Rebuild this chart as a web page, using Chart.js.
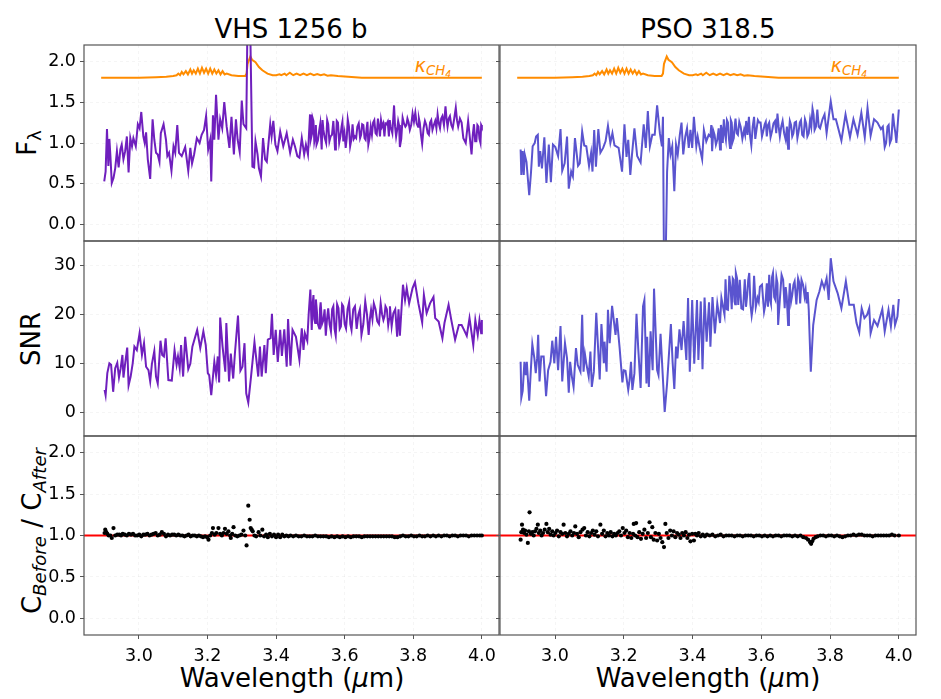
<!DOCTYPE html>
<html>
<head>
<meta charset="utf-8">
<title>VHS 1256 b / PSO 318.5</title>
<script src="https://cdn.jsdelivr.net/npm/chart.js@4/dist/chart.umd.min.js"></script>
<style>
html, body { margin: 0; padding: 0; background: #fff; }
body { width: 941px; height: 699px; position: relative; overflow: hidden; font-family: "DejaVu Sans", sans-serif; color: #000; }
canvas { position: absolute; }
.txt { position: absolute; white-space: nowrap; transform: translate(-50%, -50%); line-height: 1; }
.rot { transform: translate(-50%, -50%) rotate(-90deg); }
.big { font-size: 26px; }
.kappa { font-size: 19px; color: #ff8c00; font-style: italic; }
sub { font-size: 70%; vertical-align: -0.25em; line-height: 0; }
</style>
</head>
<body>
<div class="txt big" style="left:291px;top:29px">VHS 1256 b</div>
<div class="txt big" style="left:708px;top:29px">PSO 318.5</div>
<div class="txt big rot" style="left:27px;top:143px">F<sub>λ</sub></div>
<div class="txt big rot" style="left:31px;top:339px">SNR</div>
<div class="txt big rot" style="left:32px;top:531px">C<sub><i>Before</i></sub> / C<sub><i>After</i></sub></div>
<div class="txt big" style="left:292px;top:678px">Wavelength (<i>μ</i>m)</div>
<div class="txt big" style="left:708px;top:678px">Wavelength (<i>μ</i>m)</div>
<div class="txt kappa" style="left:433px;top:65px">κ<sub>CH<sub>4</sub></sub></div>
<div class="txt kappa" style="left:849px;top:65px">κ<sub>CH<sub>4</sub></sub></div>

<script>
// tick values
const xTicks = [3.0, 3.2, 3.4, 3.6, 3.8, 4.0];
const fluxTicks = [0.0, 0.5, 1.0, 1.5, 2.0];
const snrTicks = [0, 10, 20, 30];
const ratioTicks = [0.0, 0.5, 1.0, 1.5, 2.0];

// methane opacity curve, same in both columns (wavelength, value)
const kappaCH4 = [[2.89,1.80],[3.00,1.80],[3.05,1.805],[3.08,1.81],[3.10,1.82],[3.11,1.83],[3.115,1.85],[3.12,1.83],[3.125,1.87],[3.13,1.84],[3.137,1.88],[3.143,1.84],[3.15,1.90],[3.155,1.85],[3.16,1.89],[3.166,1.85],[3.172,1.91],[3.178,1.85],[3.184,1.92],[3.19,1.86],[3.196,1.91],[3.202,1.85],[3.208,1.91],[3.214,1.85],[3.22,1.90],[3.226,1.85],[3.232,1.89],[3.238,1.84],[3.244,1.88],[3.25,1.84],[3.256,1.85],[3.27,1.83],[3.29,1.82],[3.31,1.82],[3.314,1.85],[3.317,1.97],[3.325,2.06],[3.33,2.02],[3.34,1.99],[3.35,1.93],[3.36,1.89],[3.375,1.85],[3.39,1.83],[3.40,1.83],[3.41,1.84],[3.415,1.83],[3.425,1.85],[3.43,1.83],[3.44,1.86],[3.45,1.83],[3.46,1.85],[3.47,1.83],[3.48,1.85],[3.49,1.83],[3.50,1.85],[3.51,1.83],[3.52,1.845],[3.53,1.83],[3.54,1.84],[3.55,1.825],[3.56,1.83],[3.58,1.82],[3.60,1.815],[3.65,1.80],[4.00,1.80]];

// VHS 1256 b flux
const vhsFlux = [[2.899,0.53],[2.903,0.65],[2.907,1.17],[2.911,0.72],[2.914,1.05],[2.917,0.84],[2.921,0.51],[2.926,0.57],[2.931,0.69],[2.936,0.90],[2.941,0.70],[2.946,0.92],[2.950,0.98],[2.955,0.80],[2.960,0.90],[2.965,1.08],[2.970,0.64],[2.975,1.06],[2.980,0.96],[2.984,1.06],[2.991,0.96],[2.997,1.23],[3.002,1.18],[3.007,1.38],[3.013,1.08],[3.017,1.00],[3.021,1.13],[3.026,0.80],[3.033,0.56],[3.040,1.29],[3.045,1.04],[3.050,0.88],[3.055,0.86],[3.060,0.77],[3.064,1.12],[3.072,1.23],[3.079,1.04],[3.083,0.84],[3.088,0.88],[3.095,0.66],[3.101,0.96],[3.106,0.88],[3.112,1.22],[3.117,0.88],[3.125,0.84],[3.135,0.95],[3.144,0.66],[3.150,0.94],[3.155,0.75],[3.161,0.86],[3.169,1.06],[3.177,1.00],[3.183,1.10],[3.190,1.16],[3.196,1.33],[3.202,0.92],[3.208,1.04],[3.211,0.53],[3.216,1.34],[3.220,1.04],[3.225,1.59],[3.232,1.04],[3.237,1.29],[3.243,1.18],[3.249,1.50],[3.256,1.20],[3.264,0.94],[3.270,1.32],[3.277,0.86],[3.283,1.29],[3.288,1.04],[3.294,0.89],[3.300,1.52],[3.305,1.23],[3.313,1.18],[3.317,2.6],[3.324,2.6],[3.331,0.71],[3.336,0.70],[3.340,1.02],[3.346,0.86],[3.350,0.69],[3.356,0.59],[3.362,1.06],[3.368,0.80],[3.373,0.77],[3.383,1.23],[3.387,1.08],[3.392,1.27],[3.398,0.98],[3.404,0.90],[3.412,1.14],[3.421,0.96],[3.431,1.12],[3.441,0.88],[3.449,1.04],[3.455,0.96],[3.462,0.84],[3.468,0.82],[3.475,1.06],[3.482,0.86],[3.487,0.98],[3.493,0.86],[3.499,1.35],[3.505,1.12],[3.509,1.27],[3.514,1.08],[3.518,0.98],[3.526,1.16],[3.533,0.92],[3.538,1.16],[3.546,1.00],[3.552,1.23],[3.559,1.08],[3.567,1.27],[3.572,0.92],[3.577,1.27],[3.584,1.00],[3.591,1.20],[3.596,1.02],[3.603,0.94],[3.609,1.29],[3.616,0.96],[3.623,1.23],[3.630,1.08],[3.637,1.20],[3.645,1.06],[3.651,1.23],[3.658,1.06],[3.664,1.18],[3.669,0.98],[3.676,1.20],[3.683,1.25],[3.690,1.12],[3.697,1.30],[3.703,1.08],[3.709,1.20],[3.716,1.08],[3.722,1.23],[3.729,1.08],[3.734,1.20],[3.744,1.46],[3.750,1.08],[3.756,1.27],[3.761,0.95],[3.769,1.31],[3.777,1.20],[3.783,1.30],[3.790,1.16],[3.798,1.36],[3.806,1.37],[3.814,1.20],[3.819,1.25],[3.826,0.99],[3.834,1.27],[3.842,1.12],[3.849,1.25],[3.856,1.16],[3.864,1.27],[3.871,1.35],[3.878,1.18],[3.885,1.33],[3.894,1.45],[3.900,1.20],[3.907,1.33],[3.915,1.18],[3.924,1.43],[3.931,1.20],[3.941,1.25],[3.946,1.06],[3.953,1.00],[3.960,1.27],[3.970,0.86],[3.977,1.23],[3.984,1.02],[3.990,1.20],[3.996,1.00],[4.000,1.20]];
// extra samples where the line packs into a solid band
const vhsFluxDense = [[3.5015,1.05],[3.507,1.30],[3.5115,1.02],[3.516,1.22],[3.522,1.03],[3.529,1.24],[3.5355,1.28],[3.542,1.06],[3.549,1.28],[3.5555,1.02],[3.563,1.10],[3.5695,1.10],[3.5745,1.02],[3.5805,1.25],[3.5875,1.08],[3.5935,1.26],[3.5995,1.12],[3.606,1.06],[3.6125,1.20],[3.6195,1.04],[3.6265,1.05],[3.6335,1.06],[3.641,1.24],[3.648,1.10],[3.6545,1.22],[3.661,1.04],[3.6665,1.26],[3.6725,1.06],[3.6795,1.10],[3.6865,1.28],[3.6935,1.10],[3.700,1.20],[3.706,1.28],[3.7125,1.24],[3.719,1.24],[3.7255,1.26],[3.7315,1.28],[3.739,1.12],[3.747,1.20],[3.753,1.16],[3.7585,1.22],[3.765,1.05],[3.773,1.24],[3.780,1.22],[3.7865,1.25],[3.794,1.22],[3.802,1.26],[3.810,1.24],[3.8165,1.30],[3.8225,1.10],[3.830,1.18],[3.838,1.22],[3.8455,1.10],[3.8525,1.28],[3.860,1.22],[3.8675,1.18],[3.8745,1.24],[3.8815,1.30],[3.8895,1.22],[3.897,1.30],[3.9035,1.30],[3.911,1.22],[3.9195,1.30],[3.9275,1.28],[3.936,1.30],[3.9735,1.10],[3.9805,1.02],[3.987,1.22],[3.993,1.05],[3.998,1.22]];

// PSO 318.5 flux
const psoFlux = [[2.900,0.92],[2.902,0.61],[2.906,0.90],[2.909,0.61],[2.912,0.86],[2.917,0.77],[2.925,0.36],[2.930,0.63],[2.935,0.96],[2.941,1.00],[2.945,1.08],[2.950,1.10],[2.953,0.71],[2.957,0.90],[2.962,0.69],[2.969,1.07],[2.975,0.51],[2.982,0.98],[2.988,0.52],[2.994,0.98],[3.001,0.95],[3.009,0.84],[3.016,1.17],[3.021,0.66],[3.028,0.75],[3.035,1.08],[3.040,0.44],[3.047,0.65],[3.052,0.59],[3.058,1.06],[3.067,0.72],[3.072,0.75],[3.079,1.14],[3.085,0.97],[3.091,0.96],[3.099,0.72],[3.105,0.88],[3.109,0.65],[3.114,1.16],[3.119,0.71],[3.126,1.17],[3.132,0.88],[3.140,0.94],[3.147,1.02],[3.154,1.21],[3.161,1.00],[3.167,1.12],[3.173,0.97],[3.185,0.94],[3.195,0.65],[3.202,1.23],[3.208,0.83],[3.213,1.04],[3.219,0.61],[3.224,0.86],[3.231,1.18],[3.239,0.84],[3.249,0.76],[3.258,1.23],[3.264,0.94],[3.270,1.39],[3.276,0.96],[3.283,1.10],[3.290,1.10],[3.297,1.46],[3.305,1.12],[3.311,0.96],[3.314,1.32],[3.317,-0.5],[3.322,-0.4],[3.326,0.65],[3.331,1.06],[3.336,0.86],[3.341,0.96],[3.347,0.41],[3.352,0.98],[3.357,0.86],[3.363,1.10],[3.368,1.25],[3.373,0.86],[3.379,1.08],[3.384,1.18],[3.389,0.94],[3.394,1.16],[3.399,0.94],[3.404,1.32],[3.411,0.96],[3.415,1.08],[3.421,0.94],[3.428,0.80],[3.433,1.16],[3.440,1.02],[3.447,1.10],[3.452,1.08],[3.457,0.90],[3.464,1.10],[3.472,1.04],[3.480,0.92],[3.485,1.16],[3.491,1.29],[3.497,1.04],[3.503,1.25],[3.509,0.94],[3.514,1.25],[3.520,1.06],[3.525,1.30],[3.532,1.10],[3.540,1.20],[3.550,1.16],[3.556,1.27],[3.564,1.32],[3.571,0.97],[3.579,1.32],[3.586,1.16],[3.594,1.25],[3.602,1.08],[3.610,1.23],[3.616,1.08],[3.623,1.25],[3.631,1.14],[3.640,1.27],[3.647,1.36],[3.654,1.08],[3.662,1.27],[3.671,1.04],[3.678,0.93],[3.683,1.27],[3.690,1.08],[3.697,1.25],[3.705,1.06],[3.712,1.25],[3.719,1.10],[3.727,1.29],[3.734,1.08],[3.742,1.29],[3.749,1.42],[3.755,1.16],[3.763,1.41],[3.771,1.18],[3.778,1.29],[3.784,1.35],[3.790,1.12],[3.802,1.51],[3.810,1.29],[3.817,1.29],[3.833,1.03],[3.845,1.35],[3.858,1.07],[3.868,1.29],[3.880,1.10],[3.891,1.37],[3.901,1.07],[3.909,1.43],[3.918,1.09],[3.928,1.29],[3.938,1.25],[3.948,1.17],[3.959,0.95],[3.967,1.20],[3.974,1.00],[3.983,1.36],[3.990,1.12],[3.996,1.18],[4.000,1.41]];
const psoFluxDense = [[3.4545,1.22],[3.4605,1.15],[3.468,0.98],[3.476,1.18],[3.4825,1.22],[3.488,1.00],[3.494,1.12],[3.500,1.28],[3.506,1.05],[3.5115,1.28],[3.517,1.02],[3.5225,1.20],[3.5285,1.12],[3.536,1.26],[3.545,1.05],[3.553,1.10],[3.560,1.10],[3.5675,1.08],[3.575,1.20],[3.5825,1.05],[3.590,1.28],[3.598,1.25],[3.606,1.15],[3.613,1.26],[3.6195,1.22],[3.627,1.07],[3.6355,1.24],[3.6435,1.12],[3.6505,1.20],[3.658,1.20],[3.6665,1.12],[3.6745,1.20],[3.6805,1.14],[3.6865,1.22],[3.6935,1.12],[3.701,1.26],[3.7085,1.14],[3.7155,1.28],[3.723,1.08],[3.7305,1.24],[3.738,1.12],[3.7455,1.20],[3.752,1.35],[3.759,1.20],[3.767,1.20],[3.9535,1.20],[3.963,1.00],[3.9705,1.22],[3.9785,1.05],[3.9865,1.22],[3.993,1.00]];

// VHS 1256 b signal to noise
const vhsSnr = [[2.900,4.6],[2.903,3.5],[2.908,8.0],[2.914,10.0],[2.919,9.7],[2.925,4.2],[2.931,9.0],[2.937,10.1],[2.942,7.1],[2.947,9.0],[2.952,11.7],[2.955,7.1],[2.960,10.0],[2.966,13.2],[2.970,5.5],[2.976,7.3],[2.982,10.0],[2.987,13.4],[2.994,12.7],[3.002,16.1],[3.009,11.7],[3.015,14.1],[3.021,9.3],[3.028,8.6],[3.033,6.3],[3.038,9.9],[3.045,12.5],[3.050,7.3],[3.055,5.9],[3.063,14.6],[3.068,11.7],[3.073,11.4],[3.078,15.1],[3.086,6.6],[3.096,6.5],[3.104,12.7],[3.110,9.7],[3.114,11.4],[3.119,9.0],[3.123,13.7],[3.129,7.3],[3.135,15.4],[3.144,8.8],[3.150,9.9],[3.156,13.4],[3.170,16.8],[3.179,13.1],[3.188,16.5],[3.195,13.7],[3.201,8.0],[3.205,7.6],[3.211,3.5],[3.220,10.3],[3.225,7.6],[3.230,11.4],[3.234,6.1],[3.237,19.3],[3.244,13.4],[3.252,8.3],[3.255,18.2],[3.263,6.3],[3.268,12.0],[3.275,6.9],[3.280,12.0],[3.289,19.7],[3.296,8.5],[3.302,9.3],[3.308,14.1],[3.313,3.9],[3.319,2.0],[3.327,7.3],[3.337,14.3],[3.348,7.3],[3.353,13.4],[3.358,7.3],[3.366,13.7],[3.370,8.0],[3.376,14.8],[3.384,15.1],[3.388,20.1],[3.393,11.7],[3.399,16.8],[3.405,10.3],[3.412,16.8],[3.417,11.5],[3.424,16.9],[3.431,9.3],[3.435,19.0],[3.442,9.5],[3.448,16.8],[3.458,15.4],[3.468,10.7],[3.475,17.1],[3.480,12.7],[3.484,16.1],[3.491,14.6],[3.495,19.9],[3.500,25.0],[3.504,16.8],[3.509,23.9],[3.514,18.2],[3.518,21.5],[3.526,17.1],[3.530,22.4],[3.538,18.8],[3.545,15.6],[3.552,21.2],[3.560,16.5],[3.567,21.6],[3.574,15.6],[3.582,21.2],[3.589,17.5],[3.596,21.6],[3.604,17.1],[3.613,22.4],[3.620,16.8],[3.630,21.6],[3.640,19.9],[3.649,15.8],[3.660,22.6],[3.670,15.8],[3.677,20.9],[3.685,22.2],[3.695,18.6],[3.705,22.2],[3.713,18.8],[3.719,21.6],[3.727,17.8],[3.732,21.6],[3.742,20.2],[3.753,15.4],[3.761,15.6],[3.770,26.0],[3.776,22.9],[3.781,25.3],[3.788,22.2],[3.798,25.3],[3.805,26.5],[3.815,22.2],[3.826,18.3],[3.831,23.9],[3.839,20.2],[3.849,22.2],[3.859,23.5],[3.864,19.2],[3.874,18.5],[3.885,15.1],[3.891,18.2],[3.903,21.9],[3.911,18.8],[3.922,14.8],[3.933,17.8],[3.941,17.8],[3.948,16.8],[3.956,15.6],[3.964,19.2],[3.975,13.7],[3.981,18.8],[3.988,15.8],[3.993,18.8],[3.998,16.1],[4.000,18.8]];
const vhsSnrDense = [[3.5065,22.0],[3.5115,19.0],[3.516,23.0],[3.522,18.0],[3.528,21.0],[3.534,18.0],[3.5415,21.0],[3.5485,19.0],[3.556,18.0],[3.5635,21.0],[3.5705,17.0],[3.578,22.0],[3.5855,17.0],[3.5925,22.0],[3.600,18.0],[3.6085,21.0],[3.6165,18.0],[3.625,21.0],[3.635,17.0],[3.6445,21.0],[3.6545,18.0],[3.665,20.0],[3.6735,19.0],[3.681,19.0],[3.690,21.0],[3.700,18.0],[3.709,20.0],[3.716,19.5],[3.723,21.0],[3.7295,19.0],[3.737,17.5],[3.7475,21.0],[3.757,21.0]];

// PSO 318.5 signal to noise
const psoSnr = [[2.900,10.3],[2.902,3.0],[2.906,4.4],[2.911,10.3],[2.915,7.6],[2.918,10.3],[2.925,2.4],[2.930,9.0],[2.934,13.9],[2.940,11.0],[2.944,8.0],[2.948,11.0],[2.951,15.8],[2.955,6.3],[2.960,11.4],[2.967,11.4],[2.974,3.3],[2.980,8.6],[2.987,10.3],[2.992,14.6],[2.998,10.0],[3.003,15.4],[3.009,8.6],[3.016,17.6],[3.021,6.3],[3.029,14.1],[3.035,11.0],[3.040,4.0],[3.044,10.3],[3.049,7.3],[3.054,5.2],[3.061,13.1],[3.066,9.7],[3.074,8.3],[3.079,19.9],[3.083,8.3],[3.087,11.9],[3.091,10.0],[3.098,7.3],[3.103,12.4],[3.107,5.2],[3.113,8.3],[3.120,20.3],[3.130,6.7],[3.135,18.0],[3.142,10.0],[3.144,14.4],[3.150,8.3],[3.154,20.9],[3.159,14.1],[3.166,21.7],[3.176,15.8],[3.180,19.2],[3.188,13.1],[3.196,6.1],[3.200,8.6],[3.205,8.5],[3.213,4.6],[3.217,6.6],[3.221,10.3],[3.225,4.6],[3.231,8.0],[3.237,20.1],[3.242,13.1],[3.249,5.0],[3.256,21.6],[3.260,22.9],[3.266,5.9],[3.268,15.4],[3.273,5.2],[3.278,16.5],[3.284,8.6],[3.288,25.2],[3.297,8.6],[3.301,7.6],[3.307,16.0],[3.313,8.0],[3.319,0.1],[3.326,5.9],[3.337,18.0],[3.342,10.3],[3.347,4.8],[3.352,13.4],[3.356,11.0],[3.362,16.9],[3.368,12.7],[3.374,18.6],[3.382,10.7],[3.387,23.3],[3.392,8.3],[3.399,22.9],[3.405,9.9],[3.413,22.9],[3.417,10.7],[3.424,22.6],[3.429,8.8],[3.435,23.4],[3.441,14.4],[3.448,22.4],[3.452,13.4],[3.458,23.5],[3.465,16.1],[3.472,22.2],[3.480,18.2],[3.484,23.3],[3.493,19.9],[3.496,27.1],[3.503,20.9],[3.511,25.0],[3.517,27.3],[3.522,22.6],[3.526,28.4],[3.533,21.9],[3.542,21.2],[3.552,27.1],[3.559,23.9],[3.565,28.4],[3.572,19.7],[3.579,27.8],[3.589,23.3],[3.596,25.6],[3.608,20.5],[3.616,26.3],[3.623,28.0],[3.628,22.2],[3.634,28.4],[3.641,22.9],[3.647,26.3],[3.649,17.8],[3.659,28.0],[3.668,21.2],[3.674,23.6],[3.678,17.8],[3.683,26.3],[3.690,23.9],[3.697,26.7],[3.707,27.3],[3.713,22.2],[3.717,27.0],[3.726,23.6],[3.732,22.2],[3.738,20.9],[3.744,8.3],[3.751,17.8],[3.761,22.9],[3.769,24.6],[3.776,26.7],[3.783,25.3],[3.790,27.3],[3.796,22.9],[3.802,31.4],[3.810,26.7],[3.822,24.3],[3.833,21.2],[3.846,26.7],[3.856,21.9],[3.869,21.9],[3.877,18.2],[3.885,16.3],[3.892,21.2],[3.900,19.2],[3.908,19.9],[3.914,21.2],[3.918,16.1],[3.928,18.8],[3.938,17.6],[3.952,21.0],[3.959,16.5],[3.970,20.9],[3.977,17.5],[3.984,21.9],[3.989,17.8],[3.996,19.5],[4.000,23.1]];
const psoSnrDense = [[3.4995,21.0],[3.507,27.8],[3.514,21.0],[3.5195,27.0],[3.524,22.0],[3.5295,27.3],[3.5375,27.0],[3.547,21.0],[3.5555,21.5],[3.562,27.0],[3.5685,22.0],[3.5755,21.5],[3.584,21.5],[3.5925,22.5],[3.602,26.0],[3.612,22.0],[3.6195,21.5],[3.6255,23.0],[3.631,27.5],[3.6375,23.5],[3.644,27.5],[3.654,23.0],[3.6635,27.0],[3.671,25.5],[3.6805,22.8],[3.6865,22.5],[3.6935,26.0],[3.702,22.0],[3.710,26.5],[3.7215,26.0],[3.729,25.0],[3.735,24.5]];

// continuum ratio points, VHS 1256 b
const vhsRatio = [[2.900,1.03],[2.902,1.07],[2.905,1.04],[2.908,1.02],[2.912,1.00],[2.917,1.00],[2.921,0.97],[2.926,1.09],[2.931,1.00],[2.937,1.01],[2.943,1.01],[2.948,1.00],[2.953,1.02],[2.959,1.01],[2.965,1.00],[2.971,1.02],[2.977,1.01],[2.983,1.02],[2.989,1.00],[2.995,1.00],[3.001,1.01],[3.007,0.99],[3.013,1.01],[3.019,1.01],[3.025,1.02],[3.031,1.00],[3.037,1.01],[3.043,1.02],[3.049,1.03],[3.055,1.00],[3.061,1.01],[3.067,1.04],[3.073,1.02],[3.079,0.99],[3.085,1.01],[3.091,1.00],[3.097,1.01],[3.103,1.01],[3.109,1.00],[3.115,1.01],[3.121,1.00],[3.127,1.00],[3.133,0.99],[3.139,1.00],[3.145,1.01],[3.151,0.99],[3.157,1.00],[3.163,1.00],[3.169,0.99],[3.175,1.00],[3.181,0.99],[3.187,0.98],[3.193,0.99],[3.199,0.98],[3.203,0.95],[3.208,1.00],[3.213,1.03],[3.216,1.09],[3.221,1.01],[3.226,1.03],[3.232,1.09],[3.237,1.02],[3.242,1.00],[3.247,1.03],[3.251,1.08],[3.256,1.02],[3.261,1.05],[3.266,1.00],[3.268,0.97],[3.272,1.02],[3.276,1.10],[3.281,1.00],[3.287,0.99],[3.293,1.00],[3.299,1.01],[3.305,1.06],[3.310,1.00],[3.314,0.88],[3.319,1.36],[3.323,1.19],[3.326,1.09],[3.329,1.07],[3.332,1.05],[3.337,1.00],[3.342,0.99],[3.349,1.04],[3.354,1.00],[3.360,1.07],[3.365,0.99],[3.371,1.01],[3.376,0.98],[3.382,1.02],[3.388,0.99],[3.394,1.01],[3.400,0.98],[3.406,1.01],[3.412,0.98],[3.418,1.01],[3.424,0.99],[3.430,1.00],[3.436,0.99],[3.442,1.00],[3.450,0.99],[3.458,1.00],[3.466,0.99],[3.474,0.99],[3.482,1.00],[3.490,0.99],[3.498,0.99],[3.506,0.99],[3.514,1.00],[3.522,0.99],[3.530,0.99],[3.538,0.99],[3.546,0.99],[3.554,0.98],[3.562,0.99],[3.570,0.98],[3.578,0.99],[3.586,0.98],[3.594,0.99],[3.602,0.98],[3.610,0.99],[3.618,0.98],[3.626,0.99],[3.634,0.99],[3.642,0.99],[3.650,0.98],[3.658,0.99],[3.666,0.99],[3.674,0.99],[3.682,0.99],[3.690,0.99],[3.698,0.99],[3.706,0.99],[3.714,0.99],[3.722,0.99],[3.730,0.99],[3.738,0.99],[3.746,0.98],[3.754,0.98],[3.762,0.99],[3.770,1.00],[3.778,0.99],[3.786,0.99],[3.794,1.00],[3.802,0.99],[3.810,0.99],[3.818,1.00],[3.826,0.99],[3.834,0.99],[3.842,1.00],[3.850,0.99],[3.858,1.00],[3.866,0.99],[3.874,1.00],[3.882,0.99],[3.890,1.00],[3.898,1.00],[3.906,0.99],[3.914,1.00],[3.922,1.00],[3.930,0.99],[3.938,1.00],[3.946,1.00],[3.954,1.00],[3.962,0.99],[3.970,1.00],[3.978,1.00],[3.986,1.00],[3.994,1.00],[4.000,1.00]];

// continuum ratio points, PSO 318.5
const psoRatio = [[2.900,0.95],[2.902,1.04],[2.904,1.13],[2.907,1.07],[2.910,1.03],[2.913,1.06],[2.917,1.01],[2.921,0.91],[2.924,1.05],[2.926,1.28],[2.930,1.02],[2.934,1.04],[2.938,1.00],[2.942,1.05],[2.946,1.08],[2.950,1.13],[2.953,1.03],[2.957,1.06],[2.961,1.00],[2.965,1.03],[2.970,1.07],[2.975,1.14],[2.979,1.04],[2.983,1.08],[2.987,1.01],[2.992,1.05],[2.996,1.00],[3.001,1.03],[3.006,1.06],[3.011,0.99],[3.016,1.04],[3.021,1.02],[3.025,1.13],[3.030,1.03],[3.035,0.99],[3.040,1.02],[3.045,1.05],[3.050,1.00],[3.055,1.03],[3.059,1.11],[3.064,1.02],[3.069,0.98],[3.074,1.04],[3.080,1.07],[3.085,1.09],[3.090,1.00],[3.095,1.04],[3.100,0.99],[3.105,1.03],[3.110,1.06],[3.115,1.01],[3.120,1.05],[3.125,0.99],[3.132,1.13],[3.137,1.02],[3.142,1.06],[3.147,0.99],[3.152,1.03],[3.157,1.00],[3.162,1.04],[3.167,0.99],[3.172,1.02],[3.177,1.00],[3.182,1.03],[3.187,1.05],[3.192,1.00],[3.197,1.09],[3.202,1.03],[3.207,1.06],[3.212,0.98],[3.217,1.03],[3.222,0.97],[3.227,1.02],[3.229,1.14],[3.233,1.00],[3.236,1.15],[3.240,0.98],[3.245,1.04],[3.250,0.96],[3.255,1.02],[3.260,1.07],[3.265,0.97],[3.270,1.03],[3.275,1.16],[3.279,0.98],[3.283,1.10],[3.287,0.95],[3.292,1.03],[3.297,0.94],[3.302,1.02],[3.307,0.97],[3.312,0.92],[3.317,0.86],[3.321,1.14],[3.325,1.03],[3.330,0.97],[3.335,1.06],[3.340,1.00],[3.345,1.05],[3.350,0.98],[3.355,1.03],[3.360,1.01],[3.365,0.97],[3.370,1.03],[3.375,1.00],[3.380,1.04],[3.385,0.97],[3.390,1.01],[3.394,0.93],[3.399,1.02],[3.404,0.94],[3.408,1.02],[3.413,1.00],[3.418,1.03],[3.424,0.99],[3.430,1.01],[3.436,0.99],[3.442,1.01],[3.450,1.00],[3.458,1.01],[3.466,0.99],[3.474,1.00],[3.482,1.01],[3.490,0.99],[3.498,1.00],[3.506,1.00],[3.514,1.00],[3.522,0.99],[3.530,1.00],[3.538,1.00],[3.546,0.99],[3.554,1.00],[3.562,1.00],[3.570,1.00],[3.578,0.99],[3.586,1.00],[3.594,1.00],[3.602,0.99],[3.610,1.00],[3.618,0.99],[3.626,1.00],[3.634,0.99],[3.642,1.00],[3.650,1.00],[3.658,0.99],[3.666,1.00],[3.674,1.00],[3.682,1.00],[3.690,0.99],[3.698,1.00],[3.706,0.99],[3.714,1.00],[3.722,0.98],[3.730,0.97],[3.736,0.95],[3.742,0.92],[3.745,0.90],[3.748,0.93],[3.752,0.96],[3.758,0.98],[3.764,0.99],[3.772,1.00],[3.780,1.00],[3.788,0.99],[3.796,1.00],[3.804,1.00],[3.812,0.99],[3.820,1.00],[3.828,0.99],[3.836,0.98],[3.844,0.99],[3.852,1.00],[3.860,1.00],[3.868,1.01],[3.876,1.00],[3.884,1.01],[3.892,1.01],[3.900,1.00],[3.908,1.00],[3.916,1.00],[3.924,0.99],[3.932,1.00],[3.940,1.00],[3.948,1.00],[3.956,1.00],[3.964,1.00],[3.972,1.00],[3.980,1.01],[3.988,1.00],[4.000,1.00]];

// unity line on the ratio panels
const unityLine = [[2.84,1],[4.05,1]];

const spineColor = '#555';
const gridColor = 'rgba(0,0,0,0.04)';
const purple = '#6f1fbd';
const slate = '#5a54cf';
const orange = '#ff8c00';
const tickFont = { family: '"DejaVu Sans"', size: 17.5 };

// draws the box round every panel
const spinePlugin = {
    id: 'spines',
    afterDraw(chart) {
        const a = chart.chartArea, c = chart.ctx;
        c.save();
        c.strokeStyle = spineColor;
        c.lineWidth = 1.2;
        c.strokeRect(a.left, a.top, a.right - a.left, a.bottom - a.top);
        c.restore();
    }
};

function toPoints(pairs) {
    return pairs.map(p => ({ x: p[0], y: p[1] }));
}

// merge the extra samples of a dense stretch in wavelength order
function merged(a, b) {
    return a.concat(b).sort((p, q) => p[0] - q[0]);
}

function lineSet(pairs, color, width) {
    return { type: 'line', data: toPoints(pairs), borderColor: color, borderWidth: width, pointRadius: 0, tension: 0, fill: false };
}

function dotSet(pairs) {
    return { type: 'scatter', data: toPoints(pairs), showLine: false, pointRadius: 2.1, pointBorderWidth: 0, backgroundColor: '#000', borderColor: '#000' };
}

// one panel: box is plot left/top/width/height in page pixels
function panel(box, datasets, yMin, yMax, yTickVals, labelFmt, isLeft, isBottom) {
    const gutter = isLeft ? box.left : 40;
    const canvas = document.createElement('canvas');
    // the scales reserve half a label above and below, so keep more than that free
    const padTop = 18, padBottom = isBottom ? 64 : 18, padRight = 18;
    canvas.width = gutter + box.width + padRight;
    canvas.height = padTop + box.height + padBottom;
    canvas.style.left = (box.left - gutter) + 'px';
    canvas.style.top = (box.top - padTop) + 'px';
    document.body.appendChild(canvas);

    new Chart(canvas.getContext('2d'), {
        data: { datasets: datasets },
        plugins: [spinePlugin],
        options: {
            responsive: false,
            animation: false,
            devicePixelRatio: 1,
            layout: { autoPadding: false, padding: { top: padTop, right: padRight, bottom: 0, left: 0 } },
            plugins: { legend: { display: false }, title: { display: false }, tooltip: { enabled: false } },
            scales: {
                x: {
                    type: 'linear', min: 2.84, max: 4.05,
                    afterBuildTicks: s => { s.ticks = xTicks.map(v => ({ value: v })); },
                    afterFit: s => { s.height = padBottom; },
                    border: { display: false, dash: [3, 3] },
                    grid: { color: gridColor, tickColor: spineColor, tickLength: 4, drawTicks: isBottom, tickBorderDash: [] },
                    ticks: { display: isBottom, autoSkip: false, maxRotation: 0, color: '#000', font: tickFont, padding: 7, callback: v => v.toFixed(1) }
                },
                y: {
                    type: 'linear', min: yMin, max: yMax,
                    afterBuildTicks: s => { s.ticks = yTickVals.map(v => ({ value: v })); },
                    afterFit: s => { s.width = gutter; },
                    border: { display: false, dash: [3, 3] },
                    grid: { color: gridColor, tickColor: spineColor, tickLength: 4, tickBorderDash: [] },
                    ticks: { display: isLeft, autoSkip: false, color: '#000', font: tickFont, padding: 4, callback: labelFmt }
                }
            }
        }
    });
}

const colLeft = 84, colRight = 499.7, colWidthL = 415.7, colWidthR = 416.3;
const oneDecimal = v => v.toFixed(1);
const integer = v => String(v);

// top row
panel({ left: colLeft, top: 44.5, width: colWidthL, height: 196.5 },
    [lineSet(merged(vhsFlux, vhsFluxDense), purple, 2), lineSet(kappaCH4, orange, 2)], -0.2, 2.2, fluxTicks, oneDecimal, true, false);
panel({ left: colRight, top: 44.5, width: colWidthR, height: 196.5 },
    [lineSet(merged(psoFlux, psoFluxDense), slate, 2), lineSet(kappaCH4, orange, 2)], -0.2, 2.2, fluxTicks, oneDecimal, false, false);

// middle row
panel({ left: colLeft, top: 241, width: colWidthL, height: 195 },
    [lineSet(merged(vhsSnr, vhsSnrDense), purple, 2)], -4.8, 34.9, snrTicks, integer, true, false);
panel({ left: colRight, top: 241, width: colWidthR, height: 195 },
    [lineSet(merged(psoSnr, psoSnrDense), slate, 2)], -4.8, 34.9, snrTicks, integer, false, false);

// bottom row
panel({ left: colLeft, top: 436, width: colWidthL, height: 199 },
    [dotSet(vhsRatio), lineSet(unityLine, '#ff0000', 2)], -0.2, 2.2, ratioTicks, oneDecimal, true, true);
panel({ left: colRight, top: 436, width: colWidthR, height: 199 },
    [dotSet(psoRatio), lineSet(unityLine, '#ff0000', 2)], -0.2, 2.2, ratioTicks, oneDecimal, false, true);
</script>
</body>
</html>
